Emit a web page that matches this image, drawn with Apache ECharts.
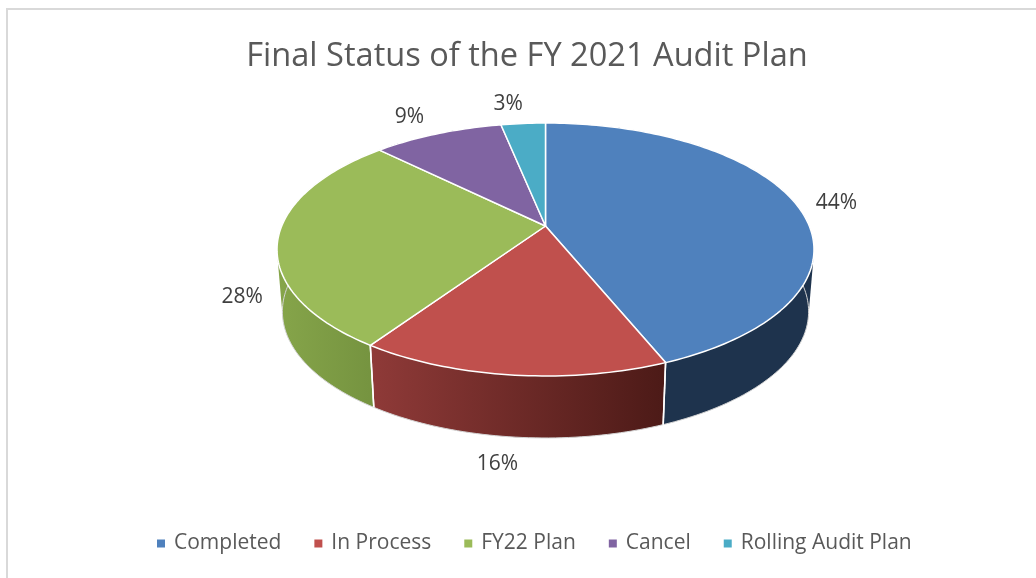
<!DOCTYPE html>
<html><head><meta charset="utf-8">
<style>html,body{margin:0;padding:0;background:#fff}#c{width:1036px;height:578px}</style>
<script src="https://cdn.jsdelivr.net/npm/echarts@6/dist/echarts.min.js"></script>
</head><body><div id="c"></div>
<script>
const chartTitle = 'Final Status of the FY 2021 Audit Plan';
const categories = ['Completed', 'In Process', 'FY22 Plan', 'Cancel', 'Rolling Audit Plan'];
const shareValues = [43.85, 15.65, 27.9, 9.4, 3.2];
const topColors = ['#4f81bd', '#c0504d', '#9bbb59', '#8064a2', '#4bacc6'];
const wallLeftColors = ['#1e334d', '#8f3a38', '#86a54a', '#4c3c61', '#2d6777'];
const wallRightColors = ['#1e334d', '#4c1a17', '#74923f', '#4c3c61', '#2d6777'];
const labelOffsets = [[41, 0], [-14, 89], [-36, 59], [-28, -17], [-15, -19]];

// projection of the tilted disc
const CX = 545.5, CY = 226, A = 263.8, B = 122.1, K = 0.1858, DEPTH = 62, BOTTOM_SCALE = 0.98;
const total = shareValues.reduce((a, b) => a + b, 0);
function rim(share) {
  const t = share / total * 2 * Math.PI, u = Math.sin(t), v = Math.cos(t), d = 1 + K * v;
  return [CX + A * u / d, CY - B * v / d];
}
function samples(s0, s1) {
  const n = Math.max(4, Math.ceil((s1 - s0) * 3)), pts = [];
  for (let i = 0; i <= n; i++) pts.push(rim(s0 + (s1 - s0) * i / n));
  return pts;
}
function hull(points) {
  const p = points.slice().sort((a, b) => a[0] - b[0] || a[1] - b[1]);
  const cross = (o, a, b) => (a[0] - o[0]) * (b[1] - o[1]) - (a[1] - o[1]) * (b[0] - o[0]);
  const half = list => {
    const h = [];
    for (const q of list) {
      while (h.length >= 2 && cross(h[h.length - 2], h[h.length - 1], q) <= 0) h.pop();
      h.push(q);
    }
    h.pop();
    return h;
  };
  return half(p).concat(half(p.slice().reverse()));
}
function renderSlice(params, api) {
  const i = params.seriesIndex, value = api.value(0);
  const s0 = shareValues.slice(0, i).reduce((a, b) => a + b, 0), s1 = s0 + value;
  const top = samples(s0, s1);
  const bottom = top.map(p => [CX + (p[0] - CX) * BOTTOM_SCALE, p[1] + DEPTH]);
  const mid = rim((s0 + s1) / 2);
  const xs = top.map(p => p[0]);
  const grad = new echarts.graphic.LinearGradient(Math.min(...xs), 0, Math.max(...xs), 0, [
    { offset: 0, color: wallLeftColors[i] }, { offset: 1, color: wallRightColors[i] }], true);
  const wallZ = (s0 <= total / 2 && total / 2 < s1) ? 2 : 1;
  return { type: 'group', children: [
    { type: 'polygon', z2: wallZ, shape: { points: hull(top.concat(bottom)) }, style: { fill: grad } },
    { type: 'polyline', z2: 3, shape: { points: bottom }, style: { fill: null, stroke: '#d4d4d4', lineWidth: 1 } },
    { type: 'polyline', z2: 4, shape: { points: [top[0], bottom[0]] }, style: { fill: null, stroke: '#ffffff', lineWidth: 1.5 } },
    { type: 'polyline', z2: 4, shape: { points: [top[top.length - 1], bottom[bottom.length - 1]] }, style: { fill: null, stroke: '#ffffff', lineWidth: 1.5 } },
    { type: 'polygon', z2: 10, shape: { points: [[CX, CY]].concat(top) },
      style: { fill: topColors[i], stroke: '#ffffff', lineWidth: 1.5, lineJoin: 'round' } },
    { type: 'text', z2: 20, style: {
      text: Math.round(value) + '%',
      x: mid[0] + labelOffsets[i][0], y: mid[1] + labelOffsets[i][1],
      align: 'center', verticalAlign: 'middle', fill: '#404040',
      font: '21px "Open Sans", sans-serif' } }
  ] };
}
const chart = echarts.init(document.getElementById('c'), null, { renderer: 'canvas' });
chart.setOption({
  animation: false,
  backgroundColor: '#ffffff',
  title: { text: chartTitle, left: 522, top: 35, textAlign: 'center',
    textStyle: { fontFamily: '"Open Sans", sans-serif', fontSize: 32.6, fontWeight: 'normal', color: '#595959' } },
  legend: { left: 157, top: 533, padding: 0, icon: 'rect', itemWidth: 8, itemHeight: 8, itemGap: 33,
    data: categories, selectedMode: false,
    textStyle: { fontFamily: '"Open Sans", sans-serif', fontSize: 21, color: '#595959', padding: [0, 0, 0, 4] } },
  graphic: [{ type: 'rect', silent: true, shape: { x: 7, y: 9, width: 1200, height: 800 },
    style: { fill: 'transparent', stroke: '#d9d9d9', lineWidth: 2 } }],
  series: categories.map((name, i) => ({
    type: 'custom', name, coordinateSystem: 'none', renderItem: renderSlice,
    itemStyle: { color: topColors[i] }, data: [[shareValues[i]]], encode: { value: 0 }
  }))
});
</script></body></html>
